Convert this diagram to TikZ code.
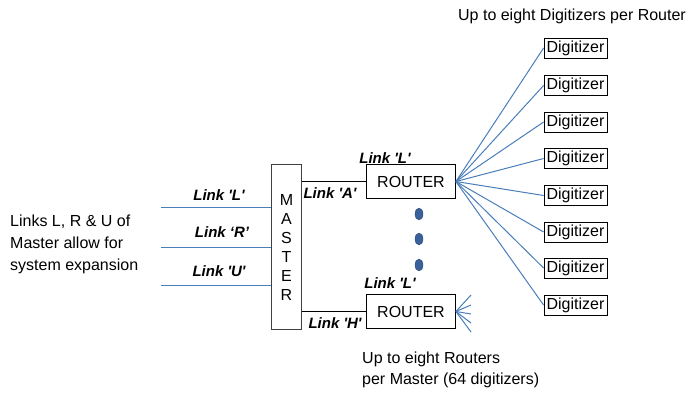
\documentclass[tikz,border=0pt]{standalone}
\usepackage{fontspec}
\setmainfont{Liberation Sans}
\usepackage{tikz}
\usetikzlibrary{positioning, shapes.geometric}
\usepackage{xcolor}
\definecolor{linkblue}{HTML}{4A7EBB}
\definecolor{dotblue}{HTML}{3A6199}
\definecolor{boxgray}{HTML}{404040}
\newcommand{\sq}{\textquotesingle}

\begin{document}
\begin{tikzpicture}[x=1pt, y=-1pt,
      txt/.style={font=\fontsize{16}{19}\selectfont, inner sep=0pt},
      lnk/.style={font=\fontsize{15}{18}\selectfont\bfseries\itshape, inner sep=0pt},
      router/.style={draw, line width=0.8pt, minimum width=89pt, minimum height=34pt,
                     inner sep=0pt, font=\fontsize{16}{19}\selectfont},
      digi/.style={draw, line width=0.8pt, minimum width=63pt, minimum height=20pt,
                   inner sep=0pt, font=\fontsize{16}{19}\selectfont},
      dot/.style={ellipse, fill=dotblue, draw=dotblue!80!black, inner sep=0pt,
                  minimum width=8pt, minimum height=12pt},
      fan/.style={linkblue, line width=1pt},
      wire/.style={line width=0.8pt}
    ]
      \useasboundingbox (0,0) rectangle (691,392);

      % Master
      \node[draw=boxgray, line width=0.8pt, minimum width=30pt, minimum height=165pt,
            inner sep=0pt, align=center, font=\fontsize{16}{19}\selectfont]
            (master) at (286.5,247) {M\\A\\S\\T\\E\\R};

      % expansion links
      \coordinate (inL) at (161,207.5);
      \coordinate (inR) at (161,247.5);
      \coordinate (inU) at (161,285.5);
      \draw[fan] (inL) -- (inL -| master.west);
      \draw[fan] (inR) -- (inR -| master.west);
      \draw[fan] (inU) -- (inU -| master.west);
      \node[lnk] (lkL) at (219,195) {Link \sq L\sq};
      \node[lnk] (lkR) at (222,232) {Link ‘R’};
      \node[lnk] (lkU) at (219,271) {Link \sq U\sq};
      \node[txt, align=left, anchor=west, font=\fontsize{16}{22}\selectfont]
            (expand) at (10,244) {Links L, R \& U of\\Master allow for\\system expansion};

      % Routers
      \node[router] (rA) at (411,181.5) {ROUTER};
      \node[router] (rH) at (411,311.5) {ROUTER};
      \draw[wire] (rA.west) -- (rA.west -| master.east);
      \draw[wire] (rH.west) -- (rH.west -| master.east);
      \node[lnk] (lkA) at (330,193) {Link \sq A\sq};
      \node[lnk] (lkH) at (335,323) {Link \sq H\sq};
      \node[lnk] (upA) at (385,158) {Link \sq L\sq};
      \node[lnk] (upH) at (390,283) {Link \sq L\sq};

      % dots between routers
      \node[dot] (dot1) at (419,214) {};
      \node[dot] (dot2) at (419,239) {};
      \node[dot] (dot3) at (419,265) {};

      % Digitizers
      \node[txt] (title) at (572,16) {Up to eight Digitizers per Router};
      \foreach \i/\y in {1/48, 2/85.5, 3/122, 4/158.5, 5/195.5, 6/232, 7/268, 8/305} {
        \node[digi] (d\i) at (575.5,\y) {Digitizer};
        \draw[fan] (rA.east) -- (d\i.west);
      }

      % short fan of the last router
      \foreach \i/\y in {1/295, 2/305, 3/314, 4/323, 5/332} {
        \coordinate (f\i) at (471,\y);
        \draw[fan] (rH.east) -- (f\i);
      }
      \node[txt, align=left, anchor=west, font=\fontsize{16}{21}\selectfont]
            (note) at (362,370) {Up to eight Routers\\per Master (64 digitizers)};
    \end{tikzpicture}
\end{document}
